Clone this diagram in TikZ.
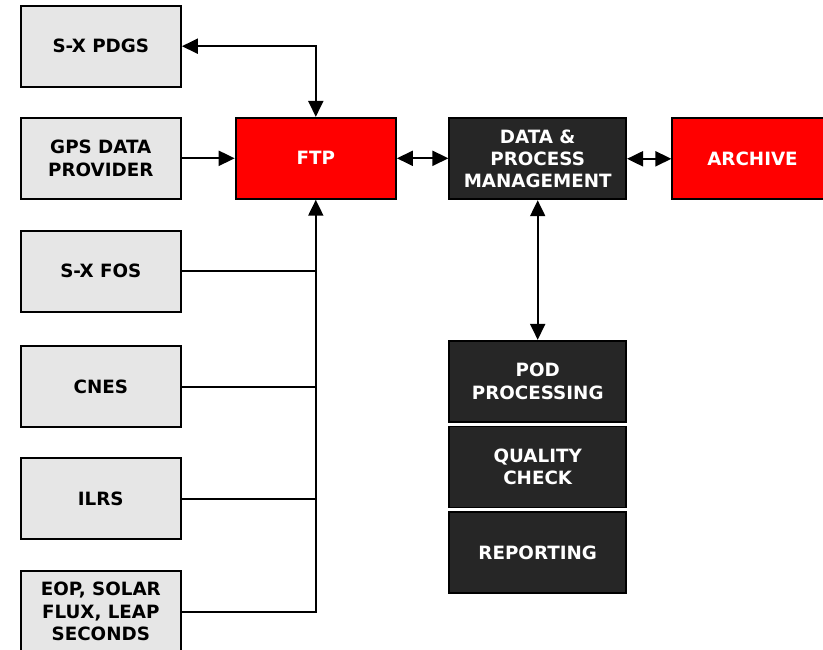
\documentclass[tikz,border=0pt]{standalone}
\usepackage{fontspec}
\setmainfont{DejaVu Sans}
\usetikzlibrary{arrows.meta}
\definecolor{boxgray}{HTML}{E6E6E6}
\definecolor{boxred}{HTML}{FF0000}
\definecolor{boxdark}{HTML}{262626}
\tikzset{
  base/.style={draw=black, line width=1.9pt, align=center, inner sep=0pt,
    font=\fontsize{18.3}{22.3}\selectfont\bfseries, minimum height=81pt},
  srcbox/.style={base, fill=boxgray, text=black, minimum width=160.3pt},
  redbox/.style={base, fill=boxred, text=white, minimum width=160.3pt},
  darkbox/.style={base, fill=boxdark, text=white, minimum width=176.7pt},
  conn/.style={line width=2pt, draw=black},
  tip/.style={-{Triangle[length=16pt,width=15pt]}},
  tips/.style={{Triangle[length=16pt,width=15pt]}-{Triangle[length=16pt,width=15pt]}},
}
\begin{document}
\begin{tikzpicture}[x=1pt,y=1pt]
\useasboundingbox (0,0) rectangle (823,-650);
\node[srcbox] (pdgs) at (100.8,-46.2) {S-X PDGS};
\node[srcbox] (gps) at (100.8,-158.3) {GPS DATA\\PROVIDER};
\node[srcbox] (fos) at (100.8,-271.2) {S-X FOS};
\node[srcbox] (cnes) at (100.8,-386.7) {CNES};
\node[srcbox] (ilrs) at (100.8,-498.8) {ILRS};
\node[srcbox] (eop) at (100.8,-611.5) {EOP, SOLAR\\FLUX, LEAP\\SECONDS};
\node[redbox] (ftp) at (315.8,-158.3) {FTP};
\node[darkbox] (dpm) at (537.7,-158.8) {DATA \&\\PROCESS\\MANAGEMENT};
\node[redbox] (arch) at (752.5,-158.8) {ARCHIVE};
\node[darkbox] (pod) at (537.7,-381.3) {POD\\PROCESSING};
\node[darkbox] (qc) at (537.7,-467) {QUALITY\\CHECK};
\node[darkbox] (rep) at (537.7,-552.7) {REPORTING};

\draw[conn,tips] (pdgs.east) -| (ftp.north);
\draw[conn,tip] (gps.east) -- (ftp.west);
\draw[conn,tip] (eop.east) -| (ftp.south);
\draw[conn] (fos.east) -- (fos.east -| ftp.south);
\draw[conn] (cnes.east) -- (cnes.east -| ftp.south);
\draw[conn] (ilrs.east) -- (ilrs.east -| ftp.south);
\draw[conn,tips] (ftp.east) -- (ftp.east -| dpm.west);
\draw[conn,tips] (dpm.east) -- (arch.west);
\draw[conn,tips] (dpm.south) -- (pod.north);
\end{tikzpicture}
\end{document}
